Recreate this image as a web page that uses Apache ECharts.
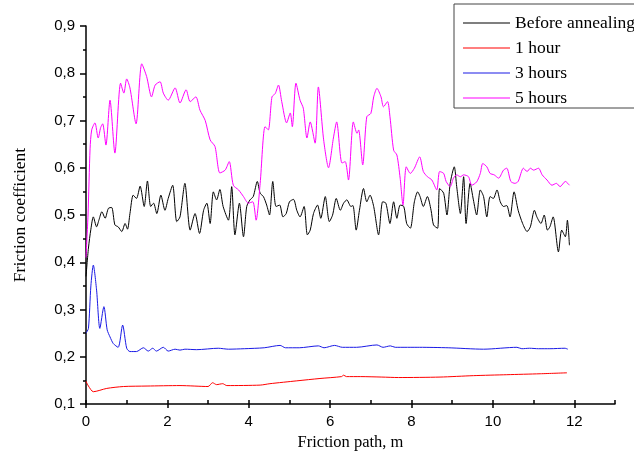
<!DOCTYPE html>
<html><head><meta charset="utf-8">
<script src="https://cdn.jsdelivr.net/npm/echarts@6/dist/echarts.min.js"></script>
<style>html,body{margin:0;padding:0;background:#fff}#c{width:634px;height:456px}</style>
</head><body><div id="c"></div>
<script>
const seriesNames = ['Before annealing', '1 hour', '3 hours', '5 hours'];
const xTicks = [0, 2, 4, 6, 8, 10, 12];
const yTicks = [0.1, 0.2, 0.3, 0.4, 0.5, 0.6, 0.7, 0.8, 0.9];

const beforeAnnealing = [[0.0,0.37],[0.06,0.43],[0.12,0.47],[0.18,0.496],[0.26,0.475],[0.32,0.49],[0.39,0.507],[0.47,0.493],[0.55,0.514],[0.63,0.516],[0.71,0.479],[0.79,0.475],[0.88,0.465],[0.96,0.482],[1.02,0.47],[1.08,0.503],[1.16,0.542],[1.24,0.535],[1.33,0.561],[1.43,0.518],[1.51,0.572],[1.59,0.518],[1.66,0.525],[1.74,0.503],[1.84,0.542],[1.94,0.51],[2.02,0.535],[2.13,0.563],[2.23,0.486],[2.31,0.496],[2.43,0.567],[2.56,0.468],[2.68,0.503],[2.79,0.461],[2.89,0.51],[2.97,0.525],[3.05,0.482],[3.13,0.549],[3.21,0.532],[3.29,0.554],[3.37,0.518],[3.50,0.489],[3.58,0.56],[3.66,0.458],[3.77,0.525],[3.87,0.454],[3.95,0.518],[4.03,0.532],[4.11,0.539],[4.21,0.571],[4.28,0.546],[4.36,0.539],[4.44,0.521],[4.51,0.50],[4.59,0.571],[4.67,0.518],[4.76,0.521],[4.84,0.496],[4.92,0.503],[5.00,0.528],[5.10,0.533],[5.18,0.51],[5.26,0.496],[5.36,0.518],[5.44,0.458],[5.51,0.468],[5.59,0.503],[5.69,0.521],[5.77,0.493],[5.88,0.539],[5.98,0.486],[6.06,0.50],[6.15,0.535],[6.25,0.51],[6.33,0.525],[6.41,0.532],[6.51,0.518],[6.56,0.52],[6.64,0.468],[6.72,0.51],[6.82,0.556],[6.90,0.528],[6.98,0.542],[7.07,0.518],[7.19,0.458],[7.29,0.528],[7.37,0.525],[7.47,0.482],[7.56,0.528],[7.64,0.493],[7.72,0.521],[7.81,0.518],[7.88,0.482],[7.97,0.472],[8.07,0.528],[8.15,0.549],[8.21,0.539],[8.29,0.518],[8.39,0.539],[8.48,0.51],[8.54,0.479],[8.64,0.472],[8.69,0.556],[8.79,0.546],[8.87,0.50],[8.95,0.567],[9.05,0.602],[9.11,0.56],[9.20,0.503],[9.28,0.581],[9.34,0.482],[9.44,0.567],[9.52,0.532],[9.60,0.50],[9.69,0.553],[9.77,0.539],[9.85,0.496],[9.93,0.539],[10.01,0.535],[10.10,0.553],[10.18,0.528],[10.26,0.518],[10.34,0.52],[10.42,0.496],[10.52,0.549],[10.62,0.51],[10.73,0.482],[10.84,0.465],[10.92,0.475],[11.02,0.51],[11.08,0.496],[11.18,0.482],[11.26,0.50],[11.34,0.468],[11.40,0.475],[11.48,0.496],[11.61,0.422],[11.69,0.468],[11.78,0.454],[11.83,0.489],[11.88,0.436]];

const oneHour = [[0,0.148],[0.06,0.138],[0.18,0.126],[0.51,0.133],[0.92,0.137],[1.5,0.138],[2.31,0.139],[3.0,0.137],[3.11,0.145],[3.21,0.141],[3.36,0.143],[3.46,0.139],[4.28,0.140],[4.52,0.143],[5.18,0.149],[5.75,0.154],[6.28,0.158],[6.33,0.161],[6.4,0.158],[6.74,0.158],[7.27,0.157],[7.68,0.156],[8.70,0.157],[9.52,0.16],[10.34,0.162],[11.16,0.164],[11.82,0.166]];

const threeHours = [[0,0.25],[0.06,0.26],[0.12,0.35],[0.18,0.394],[0.26,0.341],[0.34,0.26],[0.44,0.306],[0.52,0.257],[0.59,0.242],[0.67,0.228],[0.79,0.22],[0.90,0.267],[1.0,0.218],[1.08,0.211],[1.24,0.211],[1.41,0.219],[1.53,0.212],[1.64,0.218],[1.73,0.212],[1.90,0.22],[2.02,0.212],[2.19,0.216],[2.31,0.214],[2.43,0.216],[2.72,0.215],[3.25,0.218],[3.5,0.216],[3.89,0.217],[4.38,0.219],[4.77,0.224],[4.9,0.219],[5.24,0.219],[5.71,0.223],[5.85,0.219],[6.11,0.224],[6.3,0.22],[6.65,0.22],[7.15,0.225],[7.3,0.22],[7.48,0.223],[7.60,0.22],[8.2,0.22],[8.9,0.219],[9.77,0.216],[10.59,0.22],[10.71,0.217],[10.9,0.218],[11.12,0.217],[11.4,0.217],[11.77,0.218],[11.84,0.216]];

const fiveHours = [[0.0,0.41],[0.05,0.50],[0.10,0.64],[0.14,0.68],[0.22,0.695],[0.30,0.663],[0.36,0.685],[0.41,0.693],[0.49,0.648],[0.59,0.743],[0.71,0.631],[0.85,0.779],[0.93,0.758],[1.0,0.788],[1.08,0.769],[1.23,0.693],[1.37,0.82],[1.49,0.793],[1.61,0.75],[1.70,0.775],[1.82,0.782],[1.90,0.758],[2.02,0.743],[2.19,0.769],[2.31,0.737],[2.46,0.765],[2.56,0.74],[2.70,0.75],[2.80,0.722],[2.93,0.70],[3.05,0.659],[3.17,0.645],[3.29,0.589],[3.42,0.595],[3.52,0.613],[3.62,0.563],[3.75,0.553],[3.87,0.539],[3.99,0.525],[4.10,0.528],[4.18,0.489],[4.28,0.567],[4.40,0.687],[4.48,0.68],[4.57,0.75],[4.65,0.757],[4.73,0.775],[4.81,0.74],[4.93,0.695],[5.02,0.716],[5.07,0.687],[5.16,0.779],[5.26,0.743],[5.34,0.726],[5.43,0.663],[5.51,0.697],[5.63,0.652],[5.71,0.771],[5.84,0.659],[5.96,0.60],[6.08,0.663],[6.16,0.697],[6.29,0.61],[6.37,0.613],[6.45,0.574],[6.57,0.697],[6.66,0.673],[6.70,0.68],[6.80,0.606],[6.90,0.708],[7.00,0.715],[7.07,0.75],[7.15,0.768],[7.25,0.75],[7.31,0.729],[7.41,0.74],[7.47,0.708],[7.56,0.637],[7.64,0.627],[7.72,0.578],[7.79,0.521],[7.87,0.602],[7.97,0.588],[8.07,0.599],[8.20,0.623],[8.29,0.592],[8.39,0.581],[8.50,0.574],[8.62,0.553],[8.69,0.592],[8.79,0.588],[8.85,0.571],[8.95,0.56],[9.03,0.578],[9.11,0.585],[9.20,0.581],[9.28,0.585],[9.40,0.581],[9.48,0.563],[9.60,0.570],[9.69,0.588],[9.75,0.609],[9.85,0.602],[9.93,0.588],[10.03,0.585],[10.14,0.578],[10.26,0.595],[10.34,0.599],[10.44,0.571],[10.54,0.567],[10.62,0.571],[10.75,0.599],[10.84,0.592],[10.92,0.599],[11.00,0.595],[11.12,0.599],[11.21,0.585],[11.33,0.574],[11.45,0.563],[11.56,0.567],[11.65,0.56],[11.78,0.571],[11.88,0.563]];

const seriesData = [beforeAnnealing, oneHour, threeHours, fiveHours];
const seriesColors = ['#000000', '#ff0000', '#1a1ae6', '#ff00ff'];

const chart = echarts.init(document.getElementById('c'), null, {renderer: 'canvas'});
const sans = 'Liberation Sans';
const serif = 'Liberation Serif';
const axisCol = '#000';

const option = {
  animation: false,
  backgroundColor: '#fff',
  grid: {left: 86, right: 19, top: 26, bottom: 52, containLabel: false},
  legend: {
    data: seriesNames,
    orient: 'vertical',
    left: 454, top: 4,
    borderColor: '#444', borderWidth: 1,
    padding: [10, 10, 1, 9],
    itemGap: 7,
    itemWidth: 47, itemHeight: 1,
    icon: 'rect',
    textStyle: {fontFamily: serif, fontSize: 17.5, color: '#000', lineHeight: 18}
  },
  xAxis: [{
    type: 'value', min: 0, max: 13, interval: 2,
    name: 'Friction path, m', nameLocation: 'middle', nameGap: 29,
    nameTextStyle: {fontFamily: serif, fontSize: 16.5, color: '#000'},
    axisLine: {show: true, lineStyle: {color: axisCol, width: 1.5}},
    axisTick: {show: true, inside: false, length: 4, lineStyle: {color: axisCol, width: 1.5}},
    axisLabel: {fontFamily: sans, fontSize: 15, color: '#000', margin: 10, showMaxLabel: false,
      formatter: v => (xTicks.indexOf(v) >= 0 ? String(v) : '')},
    splitLine: {show: false}
  }, {
    type: 'value', min: 0, max: 13, interval: 1, position: 'bottom',
    axisLine: {show: false},
    axisTick: {show: true, inside: true, length: 4, lineStyle: {color: axisCol, width: 1.5}},
    axisLabel: {show: false},
    splitLine: {show: false}
  }],
  yAxis: {
    type: 'value', min: 0.1, max: 0.9, interval: 0.1,
    name: 'Friction coefficient', nameLocation: 'middle', nameGap: 57, nameRotate: 90,
    nameTextStyle: {fontFamily: serif, fontSize: 17.5, color: '#000'},
    axisLine: {show: true, lineStyle: {color: axisCol, width: 1.5}},
    axisTick: {show: true, inside: false, length: 6, lineStyle: {color: axisCol, width: 1.5}},
    minorTick: {show: true, splitNumber: 2, length: 3, lineStyle: {color: axisCol, width: 1.5}},
    axisLabel: {fontFamily: sans, fontSize: 15, color: '#000', margin: 11,
      formatter: v => {
        const t = yTicks.find(y => Math.abs(y - v) < 1e-6);
        return t === undefined ? '' : t.toFixed(1).replace('.', ',');
      }},
    splitLine: {show: false}
  },
  series: seriesNames.map((n, i) => ({
    name: n, type: 'line', xAxisIndex: 0,
    data: seriesData[i],
    symbol: 'none', smooth: 0.25,
    lineStyle: {color: seriesColors[i], width: 1},
    itemStyle: {color: seriesColors[i]},
    z: 2 + i
  }))
};
chart.setOption(option);
</script>
</body></html>
